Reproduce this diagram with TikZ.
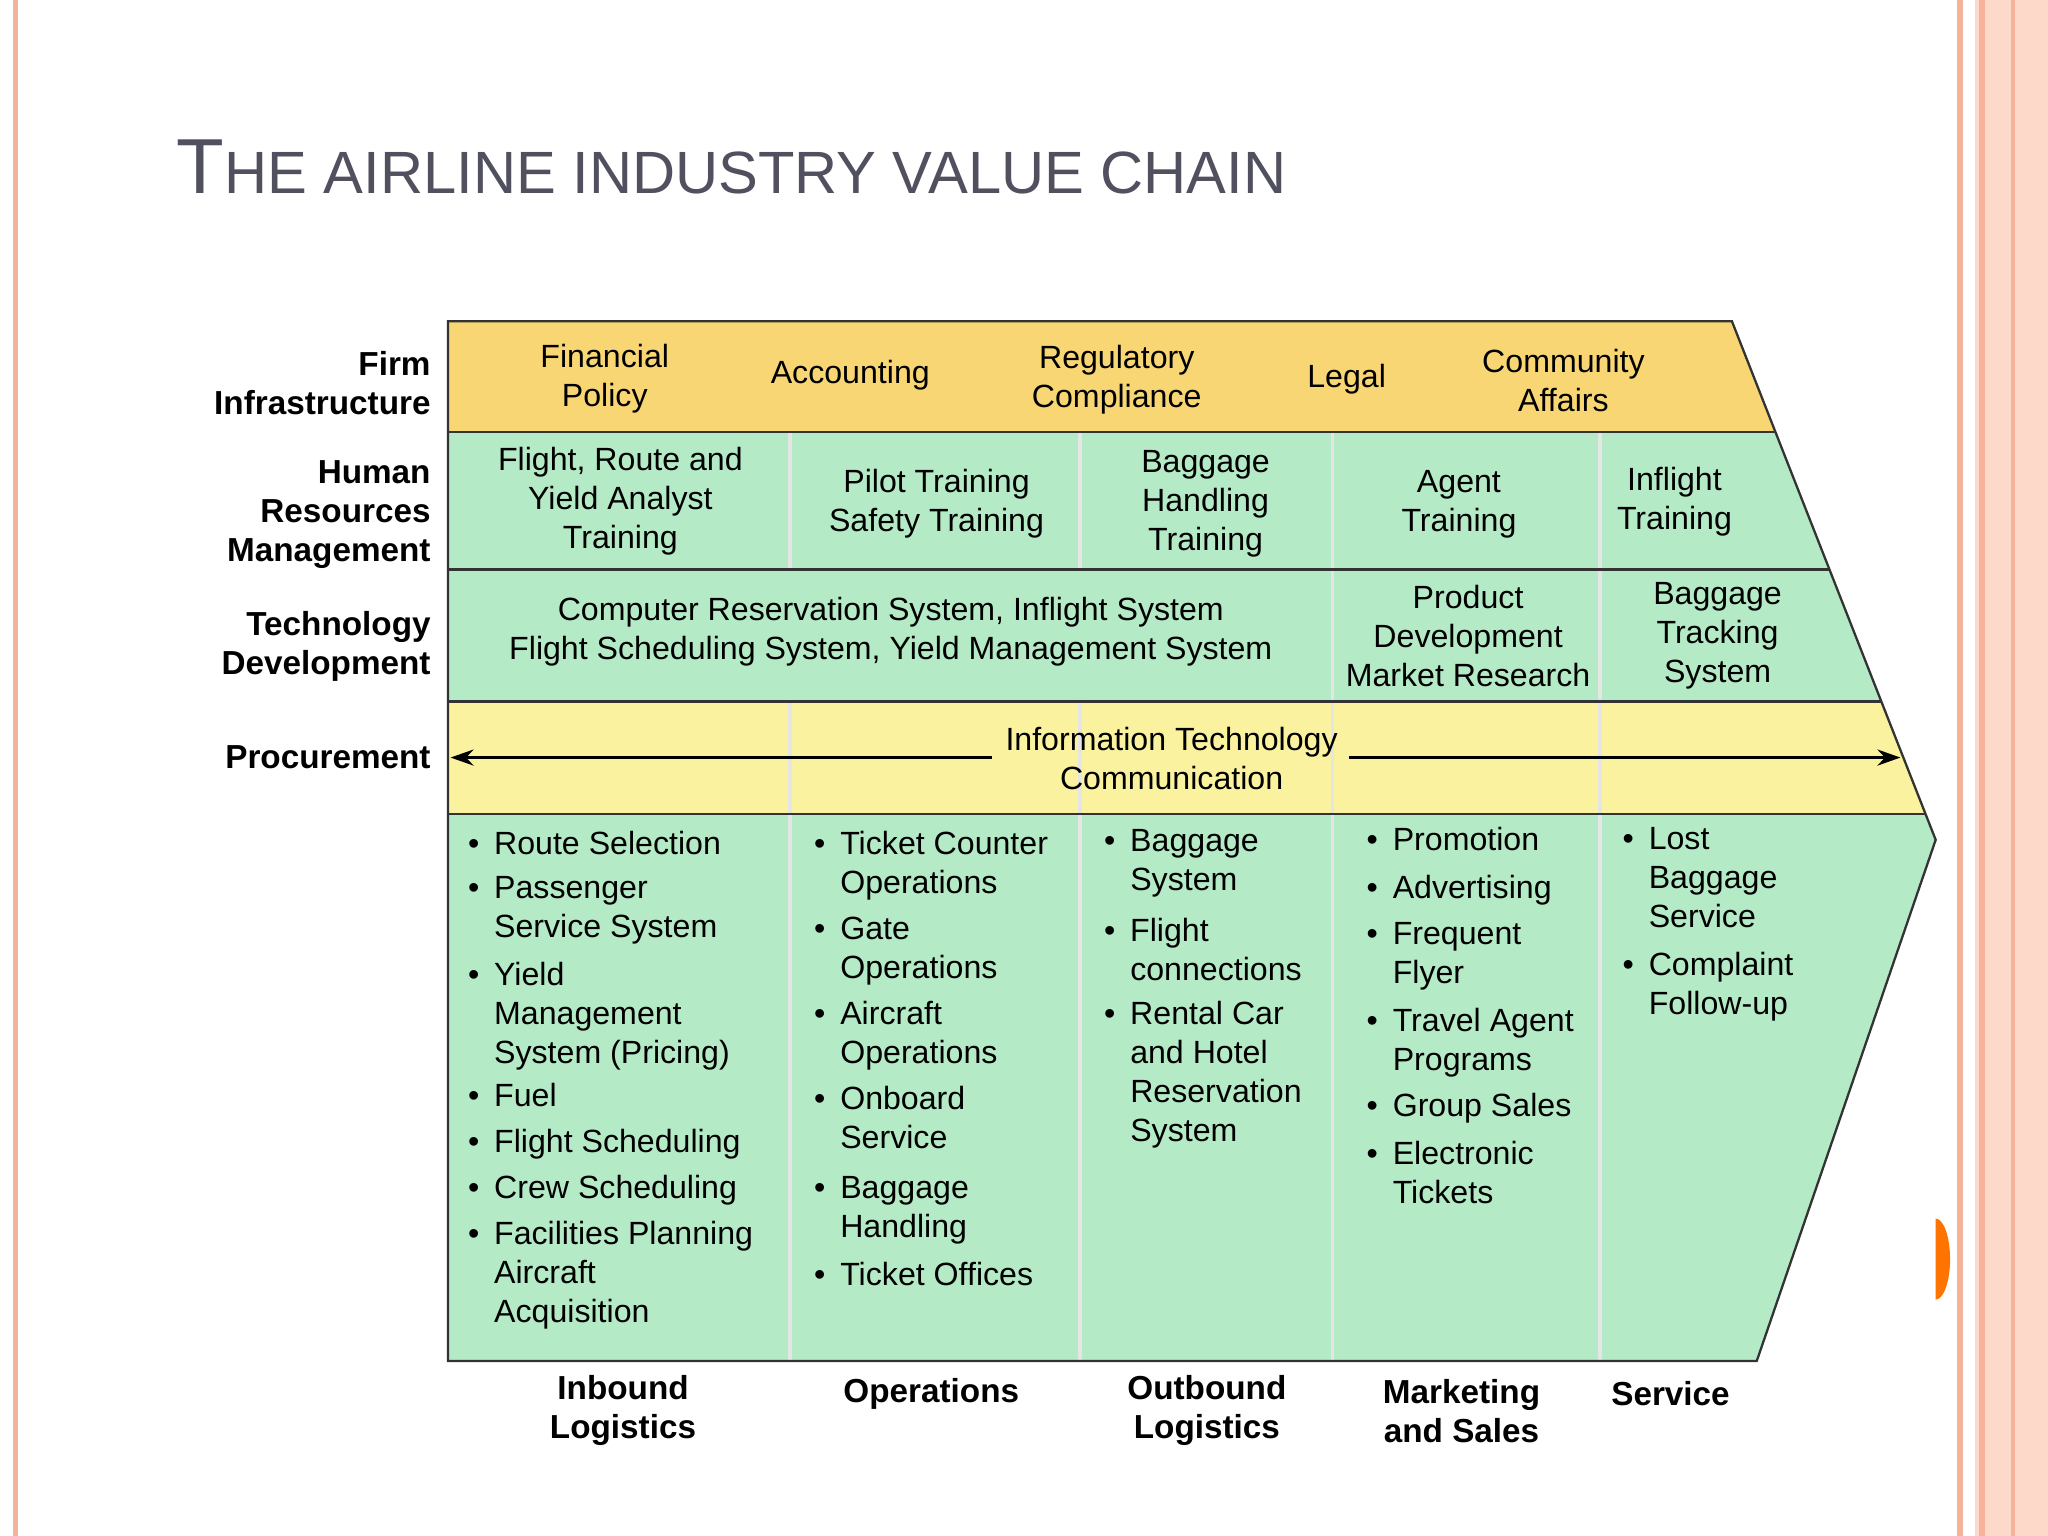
\documentclass[tikz,border=0pt]{standalone}
\usepackage{fontspec}
\setmainfont{Liberation Sans}
\usetikzlibrary{arrows.meta}
\definecolor{fi}{HTML}{F8D673}
\definecolor{gr}{HTML}{B5EAC7}
\definecolor{pr}{HTML}{FAF29E}
\definecolor{ttl}{HTML}{50505F}
\definecolor{sal}{HTML}{F4B39A}
\definecolor{sall}{HTML}{FCD9C8}
\newcommand\bu{\makebox[0.4cm][l]{•}}
\newcommand\ct{\hspace*{0.4cm}}
\tikzset{
 txt/.style={font=\fontsize{14}{17}\selectfont, align=center, inner sep=0},
 lbl/.style={font=\fontsize{14.5}{17}\selectfont\bfseries, align=right, anchor=east, inner sep=0},
 blbl/.style={font=\fontsize{14.5}{17}\selectfont\bfseries, align=center, inner sep=0},
 lst/.style={font=\fontsize{14}{17}\selectfont, align=left, anchor=north west, inner sep=0},
 dv/.style={white!80!gray, line width=1.5pt},
 hl/.style={black!80, line width=1pt}
}
\begin{document}
\begin{tikzpicture}[x=0.02cm,y=-0.02cm]
\useasboundingbox (0,0) rectangle (1568,1176);
\fill[white] (0,0) rectangle (1568,1176);
% decorations
\fill[sal] (10,0) rectangle (14,1176);
\fill[sal] (1498,0) rectangle (1503,1176);
\fill[sall] (1512,0) rectangle (1568,1176);
\fill[sal] (1515,0) rectangle (1520,1176);
\fill[sal] (1540,0) rectangle (1543,1176);
\fill[orange!90!red] (1482,995) arc (90:-90:11 and 31) -- cycle;
% title
\node[anchor=base west, inner sep=0, text=ttl, font=\fontsize{34}{40}\selectfont] (title) at (135,148) {T\fontsize{26}{30}\selectfont HE AIRLINE INDUSTRY VALUE CHAIN};
% bands
\begin{scope}
\clip (343,246) -- (1326,246) -- (1482,643) -- (1345,1042) -- (343,1042) -- cycle;
\fill[fi] (343,246) rectangle (1500,331);
\fill[gr] (343,331) rectangle (1500,537);
\fill[pr] (343,537) rectangle (1500,623);
\fill[gr] (343,623) rectangle (1500,1042);
\draw[dv] (605,331) -- (605,436); \draw[dv] (827,331) -- (827,436);
\draw[dv] (1020,331) -- (1020,537); \draw[dv] (1225,331) -- (1225,537);
\draw[dv] (605,537) -- (605,623); \draw[dv] (827,537) -- (827,623);
\draw[dv] (1020,537) -- (1020,623); \draw[dv] (1225,537) -- (1225,623);
\draw[dv] (605,623) -- (605,1042); \draw[dv] (827,623) -- (827,1042);
\draw[dv] (1020,623) -- (1020,1042); \draw[dv] (1225,623) -- (1225,1042);
\draw[hl] (343,331) -- (1500,331);
\draw[hl] (343,436) -- (1500,436);
\draw[hl] (343,537) -- (1500,537);
\draw[hl] (343,623) -- (1500,623);
\end{scope}
\draw[hl] (343,246) -- (1326,246) -- (1482,643) -- (1345,1042) -- (343,1042) -- cycle;
% left labels
\node[lbl] (l1) at (330,293) {Firm\\Infrastructure};
\node[lbl] (l2) at (330,394) {Human\\Resources\\Management};
\node[lbl] (l3) at (330,495) {Technology\\Development};
\node[lbl] (l4) at (330,580) {Procurement};
% firm infra
\node[txt] (a1) at (463,290) {Financial\\Policy};
\node[txt] (a2) at (651,287) {Accounting};
\node[txt] (a3) at (855,291) {Regulatory\\Compliance};
\node[txt] (a4) at (1031,290) {Legal};
\node[txt] (a5) at (1197,291) {Community\\Affairs};
% HR
\node[txt] (b1) at (475,384) {Flight, Route and\\Yield Analyst\\Training};
\node[txt] (b2) at (717,386) {Pilot Training\\Safety Training};
\node[txt] (b3) at (923,386) {Baggage\\Handling\\Training};
\node[txt] (b4) at (1117,386) {Agent\\Training};
\node[txt] (b5) at (1282,384) {Inflight\\Training};
% tech
\node[txt] (c1) at (682,484) {Computer Reservation System, Inflight System\\Flight Scheduling System, Yield Management System};
\node[txt] (c2) at (1124,487) {Product\\Development\\Market Research};
\node[txt] (c3) at (1315,487) {Baggage\\Tracking\\System};
% procurement
\node[txt] (d1) at (897,581) {Information Technology\\Communication};
\coordinate (pl) at (345,580);
\coordinate (pr) at (1455,580);
\draw[line width=1.3pt, -{Stealth[length=10pt,width=7pt]}] (d1.west|-pl) ++(-10,0) -- (pl);
\draw[line width=1.3pt, -{Stealth[length=10pt,width=7pt]}] (d1.east|-pr) ++(8,0) -- (pr);
% primary lists
\node[lst] (e1) at (358,636) {\bu Route Selection\\[2pt]\bu Passenger\\\ct Service System\\[4pt]\bu Yield\\\ct Management\\\ct System (Pricing)\\[2pt]\bu Fuel\\[3pt]\bu Flight Scheduling\\[3pt]\bu Crew Scheduling\\[3pt]\bu Facilities Planning\\\ct Aircraft\\\ct Acquisition};
\node[lst] (e2) at (623,636) {\bu Ticket Counter\\\ct Operations\\[3pt]\bu Gate\\\ct Operations\\[3pt]\bu Aircraft\\\ct Operations\\[3pt]\bu Onboard\\\ct Service\\[5pt]\bu Baggage\\\ct Handling\\[4pt]\bu Ticket Offices};
\node[lst] (e3) at (845,635) {\bu Baggage\\\ct System\\[5pt]\bu Flight\\\ct connections\\[2pt]\bu Rental Car\\\ct and Hotel\\\ct Reservation\\\ct System};
\node[lst] (e4) at (1046,633) {\bu Promotion\\[4pt]\bu Advertising\\[3pt]\bu Frequent\\\ct Flyer\\[4pt]\bu Travel Agent\\\ct Programs\\[3pt]\bu Group Sales\\[4pt]\bu Electronic\\\ct Tickets};
\node[lst] (e5) at (1242,633) {\bu Lost\\\ct Baggage\\\ct Service\\[4pt]\bu Complaint\\\ct Follow-up};
% bottom labels
\node[blbl] (f1) at (477,1080) {Inbound\\Logistics};
\node[blbl] (f2) at (713,1067) {Operations};
\node[blbl] (f3) at (924,1080) {Outbound\\Logistics};
\node[blbl] (f4) at (1119,1080) {Marketing\\and Sales};
\node[blbl] (f5) at (1279,1067) {Service};
\end{tikzpicture}
\end{document}
